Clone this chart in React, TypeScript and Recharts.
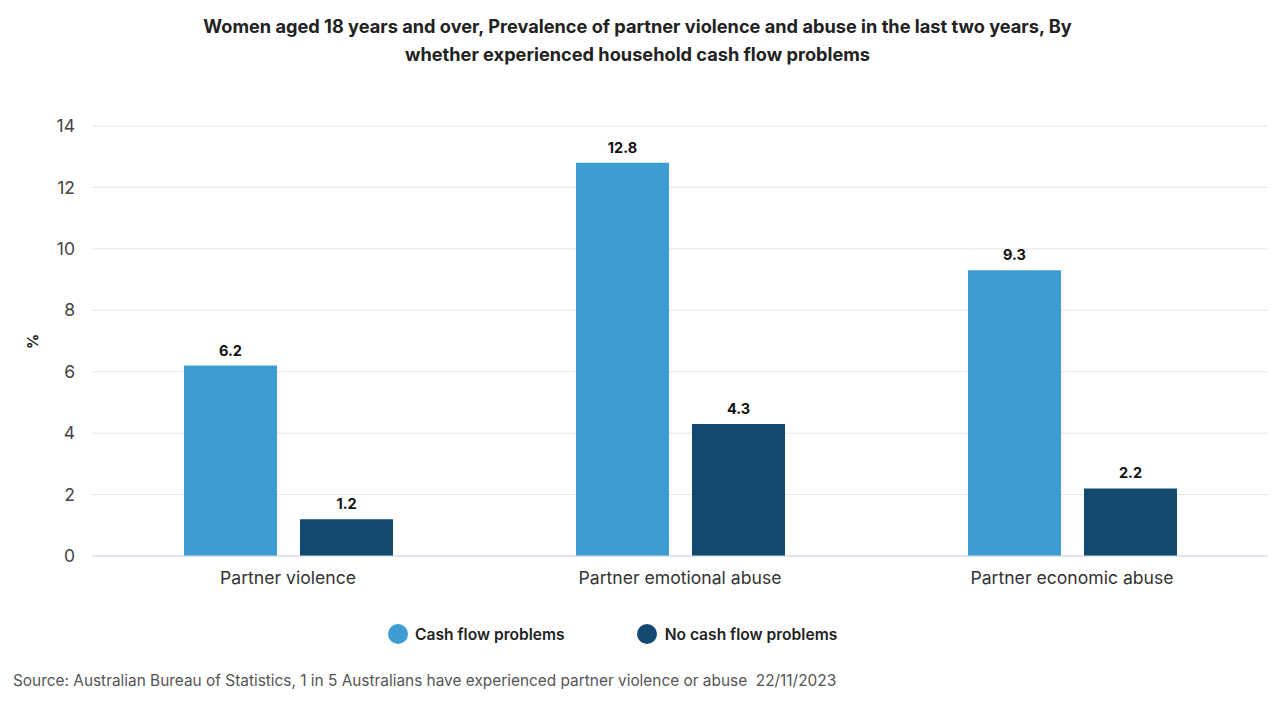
import { BarChart, Bar, XAxis, YAxis, CartesianGrid, LabelList } from 'recharts'

const categories = ['Partner violence', 'Partner emotional abuse', 'Partner economic abuse']
const cashFlow = [6.2, 12.8, 9.3]
const noCashFlow = [1.2, 4.3, 2.2]
const yTicks = [0, 2, 4, 6, 8, 10, 12, 14]

const LIGHT = '#3d9cd2'
const DARK = '#154a70'
const FONT = 'Inter, "Noto Sans", sans-serif'

const data = categories.map((name, i) => ({ name, cash: cashFlow[i], noCash: noCashFlow[i] }))

export default function App() {
  return (
    <div style={{ position: 'absolute', left: 0, top: 0, width: 1280, height: 711, background: '#fff', fontFamily: FONT }}>
      <div
        style={{
          position: 'absolute',
          top: 12,
          left: 0,
          width: 1275,
          textAlign: 'center',
          fontSize: 18.2,
          fontWeight: 700,
          lineHeight: '28px',
          color: '#222',
        }}
      >
        Women aged 18 years and over, Prevalence of partner violence and abuse in the last two years, By
        <br />
        whether experienced household cash flow problems
      </div>

      <div style={{ position: 'absolute', top: 0, left: 0 }}>
        <BarChart
          width={1280}
          height={600}
          data={data}
          margin={{ top: 126, right: 12, left: 0, bottom: 14 }}
          barGap={23}
          barSize={93}
        >
          <CartesianGrid vertical={false} stroke="#e6e6e6" />
          <XAxis
            dataKey="name"
            tickLine={false}
            axisLine={{ stroke: '#ccd6eb' }}
            tickMargin={10}
            tick={{ fill: '#333', fontSize: 17.6, fontFamily: FONT }}
          />
          <YAxis
            width={92}
            domain={[0, 14]}
            ticks={yTicks}
            axisLine={false}
            tickLine={false}
            tickMargin={11}
            tick={{ fill: '#444', fontSize: 17.5, fontFamily: FONT }}
            label={{
              value: '%',
              angle: -90,
              position: 'insideLeft',
              dx: 28,
              dy: 8,
              style: { fill: '#222', fontSize: 15, fontWeight: 700, fontFamily: FONT },
            }}
          />
          <Bar dataKey="cash" fill={LIGHT} isAnimationActive={false}>
            <LabelList dataKey="cash" position="top" offset={10} style={{ fill: '#111', fontSize: 14.5, fontWeight: 700, fontFamily: FONT }} />
          </Bar>
          <Bar dataKey="noCash" fill={DARK} isAnimationActive={false}>
            <LabelList dataKey="noCash" position="top" offset={10} style={{ fill: '#111', fontSize: 14.5, fontWeight: 700, fontFamily: FONT }} />
          </Bar>
        </BarChart>
      </div>

      <div style={{ position: 'absolute', top: 623, left: 388, height: 22, display: 'flex', alignItems: 'center', fontSize: 15.6, fontWeight: 600, color: '#222' }}>
        <span style={{ width: 20, height: 20, borderRadius: 10, background: LIGHT, display: 'inline-block', marginRight: 7 }} />
        <span>Cash flow problems</span>
        <span style={{ width: 20, height: 20, borderRadius: 10, background: DARK, display: 'inline-block', marginLeft: 72, marginRight: 8 }} />
        <span>No cash flow problems</span>
      </div>

      <div style={{ position: 'absolute', top: 671, left: 13, fontSize: 15.4, color: '#555', whiteSpace: 'pre' }}>
        Source: Australian Bureau of Statistics, 1 in 5 Australians have experienced partner violence or abuse  22/11/2023
      </div>
    </div>
  )
}
